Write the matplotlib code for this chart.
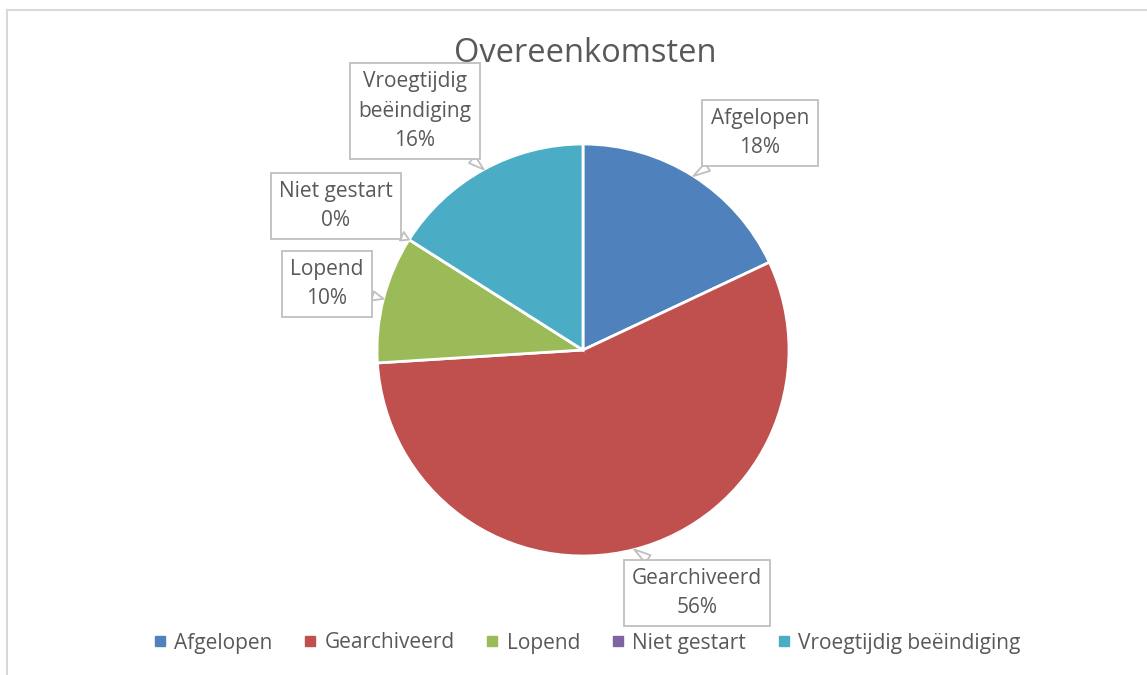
import numpy as np
import matplotlib.pyplot as plt
from matplotlib.lines import Line2D

plt.rcParams['font.family'] = ['Open Sans', 'DejaVu Sans']

categories = ['Afgelopen', 'Gearchiveerd', 'Lopend', 'Niet gestart', 'Vroegtijdig beëindiging']
values = [18, 56, 10, 0, 16]
box_labels = ['Afgelopen', 'Gearchiveerd', 'Lopend', 'Niet gestart', 'Vroegtijdig\nbeëindiging']
colors = ['#4F81BD', '#C0504D', '#9BBB59', '#8064A2', '#4BACC6']

W, H = 1147, 675
# label box centres in pixel coordinates (from top-left)
box_pos = [(760, 133), (697, 593), (327, 284), (336, 206), (415, 111)]

fig = plt.figure(figsize=(W / 100, H / 100), dpi=100)
ax = fig.add_axes([0, 0, 1, 1])

cx, cy, r = 583, H - 350, 206
wedges, _ = ax.pie(values, colors=colors, startangle=90, counterclock=False,
                   center=(cx, cy), radius=r,
                   wedgeprops=dict(edgecolor='white', linewidth=2))
ax.set_xlim(0, W)
ax.set_ylim(0, H)
ax.axis('off')

total = sum(values)
for w, lab, v, (bx, by) in zip(wedges, box_labels, values, box_pos):
    ang = np.deg2rad((w.theta1 + w.theta2) / 2)
    tip = (cx + r * np.cos(ang), cy + r * np.sin(ang))
    ax.annotate(f'{lab}\n{v / total:.0%}', xy=tip, xytext=(bx, H - by),
                ha='center', va='center', fontsize=15, color='#595959',
                linespacing=1.5,
                bbox=dict(boxstyle='square,pad=0.4', fc='white', ec='#BFBFBF', lw=1.3),
                arrowprops=dict(arrowstyle='wedge,tail_width=0.45,shrink_factor=0.5',
                                fc='white', ec='#BFBFBF', lw=1.3,
                                shrinkA=0, shrinkB=0))

ax.text(585, H - 53, 'Overeenkomsten', ha='center', va='center',
        fontsize=23.5, color='#595959')

# chart frame (cropped at right and bottom)
ax.plot([7, 7], [0, H - 10], color='#D9D9D9', lw=1.5)
ax.plot([7, W], [H - 10, H - 10], color='#D9D9D9', lw=1.5)

handles = [Line2D([], [], marker='s', ls='', color=c, markersize=7) for c in colors]
fig.legend(handles, categories, loc='center', bbox_to_anchor=(587 / W, 1 - 643 / H),
           ncol=5, frameon=False, fontsize=15, labelcolor='#595959',
           handlelength=0.6, handletextpad=0.4, columnspacing=1.5)

fig.savefig('out.png', dpi=100)
